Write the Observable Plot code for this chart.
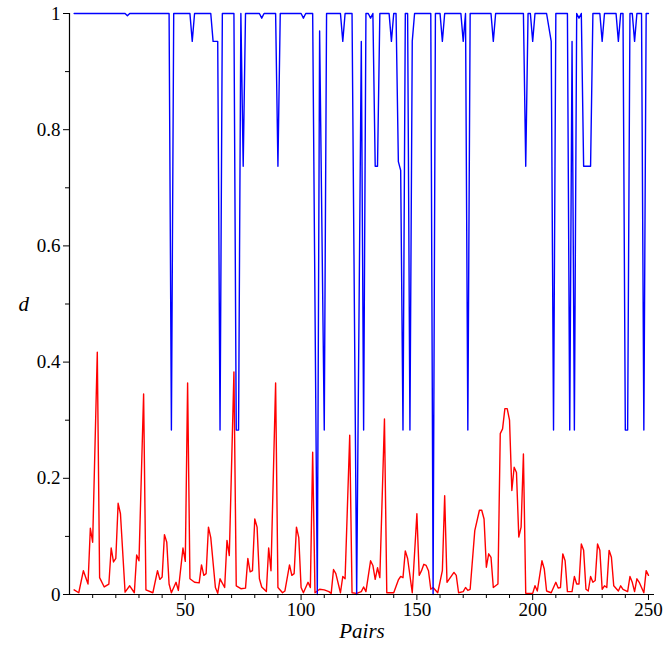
<!DOCTYPE html>
<html>
<head>
<meta charset="utf-8">
<script src="https://cdn.jsdelivr.net/npm/d3@7"></script>
<script src="https://cdn.jsdelivr.net/npm/@observablehq/plot@0.6"></script>
<style>
  html, body { margin: 0; padding: 0; background: #fff; }
  #chart svg { display: block; }
  #chart svg, #chart svg text, #chart svg g { font-family: "Liberation Serif", "DejaVu Serif", "Times New Roman", serif !important; }
</style>
</head>
<body>
<div id="chart"></div>
<script>
// Blue series (vertices)
const blueX = [2,24,25,26,43,44,45,52,53,54,61,62,64,65,66,71,72,73,74,75,76,82,83,84,89,90,91,100,101,102,105,107,108,110,111,117,118,119,122,124,126,127,128,129,130,131,132,133,134,138,139,140,141,142,143,144,145,146,147,148,149,156,157,158,160,161,162,169,170,171,172,173,182,183,184,196,197,198,199,200,201,206,208,209,210,215,216,217,218,219,220,221,222,225,226,229,230,231,236,237,238,239,240,241,242,243,244,245,247,248,249,250];
const blueY = [1,1,0.996,1,1,0.283,1,1,0.952,1,1,0.952,0.952,0.283,1,1,0.283,0.283,1,0.737,1,1,0.992,1,1,0.737,1,1,0.992,1,1,0,0.97,0.283,1,1,0.952,1,1,0,0.952,0.283,1,1,0.992,1,0.737,0.737,1,1,0.952,1,1,0.745,0.73,0.283,1,1,0.283,0.952,1,1,0,1,1,0.952,1,1,0.952,1,0.283,1,1,0.952,1,1,0.737,1,1,0.952,1,1,0.952,0.283,1,1,0.283,0.952,0.283,1,0.992,1,0.737,0.737,1,1,0.952,1,1,0.952,1,1,0.283,0.283,1,1,0.952,1,1,0.283,1,1];

// Red series (vertices)
const redX = [2,4,6,8,9,10,12,13,15,17,18,19,20,21,22,24,26,28,29,30,32,33,36,38,39,40,41,42,43,44,46,47,49,50,51,52,54,56,57,58,59,60,61,63,64,65,67,68,69,71,72,74,76,77,78,79,80,81,82,83,85,86,87,89,90,92,93,95,96,97,98,99,100,101,103,104,105,106,108,110,112,113,114,115,117,118,119,121,122,124,126,127,128,130,131,132,133,134,136,137,140,142,143,144,145,146,148,150,151,152,153,154,155,156,157,159,161,162,163,166,167,168,170,171,172,173,175,177,178,179,180,181,182,183,185,186,187,188,189,190,191,192,193,194,195,196,197,200,201,202,204,205,206,208,210,211,212,213,214,215,217,218,219,220,221,222,223,224,225,226,227,228,229,230,231,232,233,234,235,237,238,239,241,242,243,244,245,246,248,249,250];
const redY = [0.008,0.003,0.041,0.018,0.114,0.09,0.417,0.029,0.013,0.018,0.080,0.056,0.062,0.157,0.139,0.004,0.015,0.003,0.068,0.058,0.345,0.008,0.003,0.041,0.026,0.030,0.103,0.09,0.018,0.003,0.021,0.007,0.080,0.057,0.364,0.027,0.021,0.020,0.051,0.033,0.036,0.116,0.098,0.012,0.002,0.027,0.012,0.093,0.067,0.383,0.015,0.010,0.011,0.062,0.039,0.041,0.130,0.116,0.027,0.013,0.005,0.080,0.041,0.364,0.012,0.003,0.006,0.051,0.033,0.036,0.116,0.098,0.012,0.003,0.021,0.012,0.245,0.003,0.009,0.008,0.005,0.002,0.043,0.036,0.003,0.031,0.027,0.274,0.003,0.002,0.005,0.013,0.005,0.058,0.050,0.026,0.046,0.029,0.302,0.003,0.003,0.025,0.031,0.029,0.075,0.062,0.003,0.139,0.033,0.041,0.052,0.050,0.041,0.009,0.012,0.003,0.041,0.170,0.021,0.038,0.033,0.003,0.005,0.012,0.007,0.009,0.110,0.145,0.145,0.130,0.047,0.070,0.064,0.012,0.018,0.277,0.285,0.320,0.320,0.300,0.179,0.219,0.210,0.099,0.116,0.242,0.002,0.002,0.015,0.006,0.058,0.044,0.006,0.003,0.021,0.011,0.012,0.070,0.058,0.005,0.005,0.031,0.018,0.018,0.087,0.076,0.009,0.006,0.031,0.021,0.024,0.087,0.076,0.009,0.015,0.012,0.076,0.064,0.015,0.006,0.015,0.009,0.005,0.031,0.021,0.005,0.027,0.021,0.003,0.041,0.033];

// Tick values
const xMajorTicks = [50, 100, 150, 200, 250];
const xMinorTicks = [10,20,30,40,60,70,80,90,110,120,130,140,160,170,180,190,210,220,230,240];
const yMajorTicks = [0, 0.2, 0.4, 0.6, 0.8, 1];
const yMinorTicks = [0.1, 0.3, 0.5, 0.7, 0.9];
const xLabel = "Pairs";
const yLabel = "d";

const blue = blueX.map((x, i) => ({x, y: blueY[i]}));
const red = redX.map((x, i) => ({x, y: redY[i]}));

const font = "Liberation Serif, DejaVu Serif, serif";

const chart = Plot.plot({
  width: 664,
  height: 659,
  marginLeft: 69,
  marginRight: 10,
  marginTop: 13,
  marginBottom: 65,
  style: {fontFamily: font, fontSize: "18px", color: "#000", background: "#fff"},
  x: {domain: [0, 252.6]},
  y: {domain: [0, 1]},
  marks: [
    Plot.axisX({ticks: xMinorTicks, tickSize: 4, tickFormat: () => "", label: null}),
    Plot.axisX({ticks: xMajorTicks, tickSize: 6, tickPadding: 2, tickFormat: d => String(d), label: null, fontSize: 19, fontFamily: font}),
    Plot.axisY({ticks: yMinorTicks, tickSize: 4, tickFormat: () => "", label: null}),
    Plot.axisY({ticks: yMajorTicks, tickSize: 6, tickPadding: 3, tickFormat: d => String(d), label: null, fontSize: 19, fontFamily: font}),
    Plot.line(red, {x: "x", y: "y", stroke: "#ff0000", strokeWidth: 1.4}),
    Plot.line(blue, {x: "x", y: "y", stroke: "#0000ff", strokeWidth: 1.4}),
    Plot.ruleX([0], {stroke: "#000", strokeWidth: 1.2}),
    Plot.ruleY([0], {stroke: "#000", strokeWidth: 1.2}),
    Plot.text([xLabel], {frameAnchor: "bottom", dy: 43, fontStyle: "italic", fontSize: 21, fontFamily: font, fill: "#000"}),
    Plot.text([yLabel], {frameAnchor: "left", dx: -51, fontStyle: "italic", fontSize: 21, fontFamily: font, fill: "#000"})
  ]
});
document.getElementById("chart").appendChild(chart);
</script>
</body>
</html>
